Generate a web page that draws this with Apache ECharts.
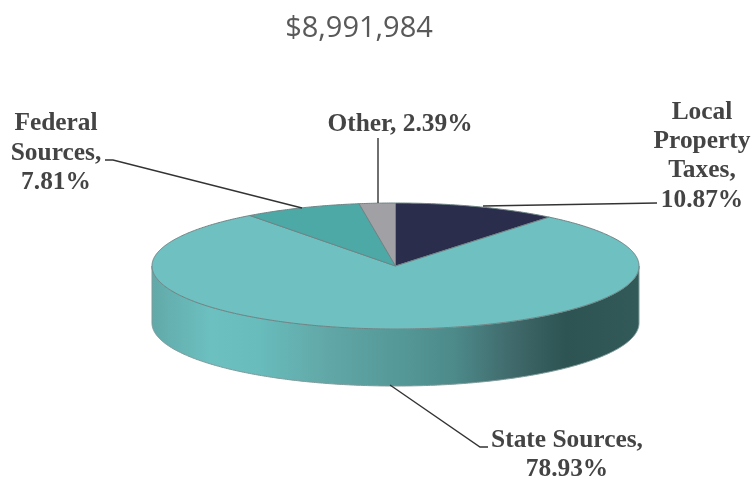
<!DOCTYPE html>
<html><head><meta charset="utf-8">
<style>html,body{margin:0;padding:0;background:#fff}#c{width:752px;height:483px}</style>
<script src="https://cdn.jsdelivr.net/npm/echarts@6/dist/echarts.min.js"></script>
</head><body><div id="c"></div>
<script>
const titleText = '$8,991,984';
const categories = ['Local\nProperty\nTaxes', 'State Sources', 'Federal\nSources', 'Other'];
const shares = [10.87, 78.93, 7.81, 2.39];
const separators = [',\n', ',\n', ',\n', ', '];
const topColors = ['#2a2d4b', '#6fc1c1', '#4ca9a6', '#a1a1a5'];

const wallDepth = 0.905;
const wallStops = [
  [0, '#62a9a9'], [0.12, '#6cc0c0'], [0.22, '#68bcbc'], [0.36, '#62a7a7'],
  [0.5, '#559a99'], [0.62, '#4d8a8a'], [0.74, '#40696b'], [0.85, '#2d5352'], [1, '#325a59']
];
const labelSpots = [
  {x: 702, y: 156}, {x: 567, y: 455}, {x: 56, y: 153}, {x: 400, y: 124}
];
const leaders = [
  [[657, 203], [483, 206]],
  [[488, 447], [480, 447], [390, 385]],
  [[105, 160], [113, 160], [302, 208]],
  [[378, 138], [378, 203]]
];

const total = shares.reduce((a, b) => a + b, 0);
const starts = [];
shares.reduce((acc, v, i) => { starts[i] = acc; return acc + v; }, 0);

function rim(angle) { return [Math.sin(angle), Math.cos(angle)]; }
function arc(a0, a1, yShift, api) {
  const n = Math.max(2, Math.ceil(Math.abs(a1 - a0) / 0.01));
  const pts = [];
  for (let k = 0; k <= n; k++) {
    const r = rim(a0 + (a1 - a0) * k / n);
    pts.push(api.coord([r[0], r[1] + yShift]));
  }
  return pts;
}

function renderSlice(params, api) {
  const i = api.value(0);
  const a0 = starts[i] / total * 2 * Math.PI;
  const a1 = (starts[i] + shares[i]) / total * 2 * Math.PI;
  const children = [];
  const f0 = Math.max(a0, Math.PI / 2), f1 = Math.min(a1, Math.PI * 1.5);
  if (f1 > f0) {
    const upper = arc(f0, f1, 0, api);
    const lower = arc(f1, f0, -wallDepth, api);
    const l = api.coord([-1, 0])[0], r = api.coord([1, 0])[0];
    children.push({
      type: 'polygon', shape: {points: upper.concat(lower)},
      style: {
        fill: {type: 'linear', x: l, y: 0, x2: r, y2: 0, global: true,
          colorStops: wallStops.map(s => ({offset: s[0], color: s[1]}))},
        stroke: '#7f9a9a', lineWidth: 1
      }
    });
  }
  children.push({
    type: 'polygon',
    shape: {points: [api.coord([0, 0])].concat(arc(a0, a1, 0, api))},
    style: {fill: topColors[i], stroke: '#6f8486', lineWidth: 1, lineJoin: 'round'}
  });
  return {type: 'group', children};
}

function renderLabel(params, api) {
  const i = api.value(0);
  return {
    type: 'group',
    children: [
      {type: 'polyline', shape: {points: leaders[i]},
       style: {fill: null, stroke: '#333333', lineWidth: 1.4}},
      {type: 'text', x: labelSpots[i].x, y: labelSpots[i].y,
       style: {
         text: categories[i] + separators[i] + shares[i].toFixed(2) + '%',
         font: 'bold 25.4px "Liberation Serif"', lineHeight: 29.3,
         fill: '#444444', align: 'center', verticalAlign: 'middle'
       }}
    ]
  };
}

const rows = shares.map((v, i) => [i, v]);
const chart = echarts.init(document.getElementById('c'), null, {renderer: 'canvas'});
chart.setOption({
  animation: false,
  backgroundColor: '#ffffff',
  title: {
    text: titleText, left: 354, top: 9, textAlign: 'center',
    textStyle: {fontFamily: '"Open Sans"', fontSize: 29, fontWeight: 'normal', color: '#595959'}
  },
  grid: {left: 152, top: 203, width: 487, height: 126},
  xAxis: {type: 'value', min: -1, max: 1, show: false},
  yAxis: {type: 'value', min: -1, max: 1, show: false},
  series: [
    {type: 'custom', renderItem: renderSlice, data: rows, clip: false, silent: true, z: 2,
     encode: {x: 0, y: 1}},
    {type: 'custom', renderItem: renderLabel, data: rows, clip: false, silent: true, z: 3,
     encode: {x: 0, y: 1}}
  ]
});
</script></body></html>
